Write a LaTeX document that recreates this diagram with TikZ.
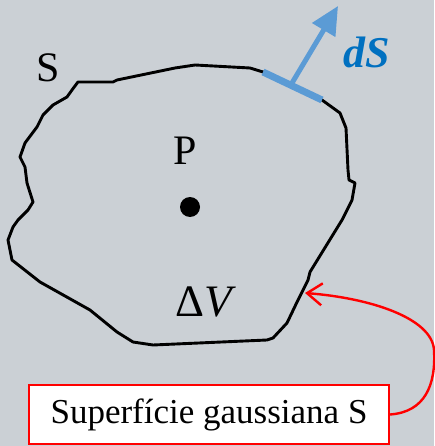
\documentclass[tikz,border=0pt]{standalone}
\usepackage{fontspec}
\setmainfont{Liberation Serif}
\usetikzlibrary{arrows.meta}
\definecolor{bg}{RGB}{203,208,213}
\definecolor{lblue}{RGB}{91,155,213}
\definecolor{dblue}{RGB}{0,112,192}
\definecolor{boxred}{RGB}{255,0,0}
\tikzset{
  contour/.style={line width=2.9pt, line join=round, line cap=round, black},
  lab/.style={inner sep=0pt, font=\fontsize{42}{48}\selectfont},
  callout/.style={draw=boxred, line width=2pt, fill=white, minimum width=360pt, minimum height=59pt, inner sep=0pt, font=\fontsize{35}{40}\selectfont},
  redarrow/.style={draw=boxred, line width=2.4pt, -{Straight Barb[length=15pt,width=22pt,line width=2.4pt]}},
  patch/.style={lblue, line width=7pt},
  normal/.style={lblue, line width=5pt, -{Triangle[length=28pt,width=26pt]}}
}
\begin{document}
\begin{tikzpicture}[x=1pt,y=-1pt]
\useasboundingbox[fill=bg] (0,0) rectangle (434,446);
% surface contour
\draw[contour] (78,82) -- (113,82) -- (117,80) -- (175,68) -- (195,65) -- (250,68) -- (263,72)
  -- (322,100) -- (340,113) -- (346,128) -- (348,170) -- (349,180) -- (355,183) -- (352,200)
  -- (342,220) -- (310,272) -- (308,280) -- (298,300) -- (287,323) -- (273,338) -- (267,340)
  -- (153,345) -- (133,342) -- (117,332) -- (90,310) -- (40,282) -- (12,260) -- (8,240)
  -- (13,227) -- (18,220) -- (28,210) -- (33,202) -- (27,183) -- (25,167) -- (20,157)
  -- (25,143) -- (37,127) -- (43,115) -- (53,105) -- (67,97) -- (72,90) -- cycle;
% surface element
\coordinate (pa) at (263,72);
\coordinate (pb) at (322,100);
\coordinate (pm) at (292,83);
\coordinate (ptip) at (338,6);
\draw[patch] (pa) -- (pb);
\draw[normal] (pm) -- (ptip);
\node[lab, text=dblue, font=\fontsize{44}{50}\selectfont\bfseries\itshape] (ds) at (367,52) {dS};
% labels
\node[lab] (slab) at (48,68) {S};
\node[lab] (plab) at (185,151) {P};
\node[circle, fill=black, inner sep=0pt, minimum size=20pt] (pdot) at (190,207) {};
\node[lab, font=\fontsize{45}{50}\selectfont] (dv) at (206,302) {Δ\textit{V}};
% callout
\node[callout] (box) at (209,414.5) {Superfície gaussiana S};
\coordinate (tip) at (305,293);
\draw[redarrow] (box.east) .. controls (425,412) and (436,385) .. (434,350)
  .. controls (432,318) and (370,298) .. (tip);
\end{tikzpicture}
\end{document}
